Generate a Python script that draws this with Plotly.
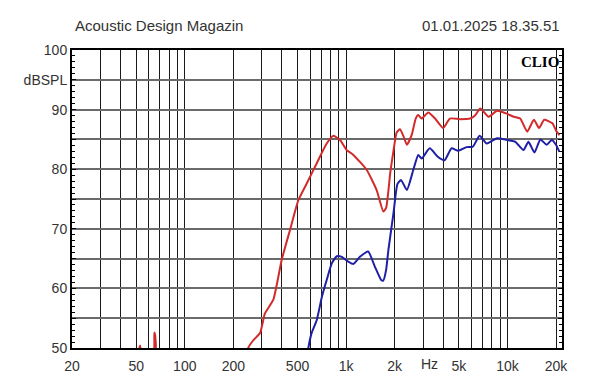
import math
import plotly.graph_objects as go

# ---- data ----
red_freq = [50, 52.8, 55, 63.8, 64.8, 65.5, 66.2, 66.8, 240, 247, 266, 293, 314, 354, 399, 449, 506,
            570, 658, 758, 834, 917, 1009, 1109, 1340, 1546, 1702, 1770, 1880, 1964, 2060, 2158,
            2270, 2380, 2554, 2700, 2800, 2940, 3230, 3560, 4000, 4400, 5080, 5870, 6300, 6780,
            7640, 8620, 9720, 10950, 12000, 13260, 14600, 15700, 16900, 19000, 20000, 21000]
red_db = [48, 50.4, 48, 48, 52.6, 52.2, 50.5, 48, 48, 50, 51.3, 52.5, 55.8, 58.1, 64.8, 69.8, 74.8,
          77.6, 81.0, 84.3, 85.6, 84.9, 83.2, 82.4, 79.9, 76.5, 72.9, 73.5, 79.5, 83.0, 86.2, 86.7,
          85.5, 84.1, 85.8, 88.5, 89.1, 88.5, 89.5, 88.5, 86.9, 88.5, 88.4, 88.5, 89.0, 90.2,
          88.8, 89.8, 89.4, 88.8, 88.5, 86.3, 88.3, 86.9, 88.3, 87.7, 86.5, 85.7]

blue_freq = [560, 583, 611, 658, 708, 758, 815, 876, 940, 1030, 1109, 1218, 1370, 1505, 1650, 1700,
             1770, 1830, 1964, 2080, 2190, 2380, 2610, 2800, 2940, 3300, 3700, 4080, 4500, 4950,
             5570, 6110, 6720, 7450, 8620, 9950, 11200, 12560, 13500, 14700, 16000, 17500, 18800,
             20000, 21000]
blue_db = [47, 50, 52.5, 54.7, 58.6, 61.4, 64.2, 65.4, 65.3, 64.5, 64.1, 65.3, 66.2, 63.7, 61.4, 61.3,
           63.1, 66.5, 72.5, 77.5, 78.2, 76.5, 79.9, 82.4, 81.8, 83.5, 82.1, 81.5, 83.5, 83.1,
           83.7, 83.8, 85.6, 84.3, 85.2, 84.9, 84.6, 83.2, 84.6, 82.8, 85.0, 84.1, 84.9,
           84.1, 82.9]

x_grid = [20, 30, 40, 50, 60, 70, 80, 90, 100, 200, 300, 400, 500, 600, 700, 800, 900,
          1000, 2000, 3000, 4000, 5000, 6000, 7000, 8000, 9000, 10000, 20000]
x_labels = {20: "20", 50: "50", 100: "100", 200: "200", 500: "500", 1000: "1k",
            2000: "2k", 5000: "5k", 10000: "10k", 20000: "20k"}
y_grid = [50, 55, 60, 65, 70, 75, 80, 85, 90, 95, 100]
y_labels = {50: "50", 60: "60", 70: "70", 80: "80", 90: "90", 95: "dBSPL", 100: "100"}

title_left = "Acoustic Design Magazin"
title_right = "01.01.2025 18.35.51"

FONT = "Liberation Sans, Arial, sans-serif"
TXT = "#333333"

# the page body has an 8px margin, so the figure is 8px smaller and margins are offset
OFF = 8
W, H = 600 - OFF, 384 - OFF
ML, MR, MT, MB = 72 - OFF, 38, 50 - OFF, 36
plot_w = W - ML - MR
plot_h = H - MT - MB

fig = go.Figure()
fig.add_trace(go.Scatter(x=red_freq, y=red_db, mode="lines",
                         line=dict(color="#d22b2b", width=2, shape="spline", smoothing=0.5),
                         showlegend=False))
fig.add_trace(go.Scatter(x=blue_freq, y=blue_db, mode="lines",
                         line=dict(color="#1f1fa6", width=2, shape="spline", smoothing=0.5),
                         showlegend=False))

x0 = math.log10(20)
x1 = x0 + 490 / (484 / 3)

fig.update_layout(
    width=W, height=H,
    margin=dict(l=ML, r=MR, t=MT, b=MB, autoexpand=False),
    paper_bgcolor="white", plot_bgcolor="white",
    font=dict(family=FONT, size=14, color=TXT),
    xaxis=dict(type="log", range=[x0, x1], automargin=False,
               tickvals=x_grid, ticktext=[x_labels.get(v, "") for v in x_grid],
               showgrid=True, gridcolor="#1a1a1a", gridwidth=1,
               ticks="", showline=True, linecolor="black", linewidth=2, mirror=True,
               ticklabelstandoff=4,
               zeroline=False, tickfont=dict(size=14, color=TXT)),
    yaxis=dict(range=[50, 100], tickvals=y_grid, automargin=False,
               ticktext=[y_labels.get(v, "") for v in y_grid],
               showgrid=True, gridcolor="#6a6a6a", gridwidth=1.5,
               ticks="inside", ticklen=4, tickcolor="black",
               minor=dict(dtick=1, ticks="inside", ticklen=3, tickcolor="black", showgrid=False),
               showline=True, linecolor="black", linewidth=2, mirror="allticks",
               zeroline=False, tickfont=dict(size=14, color=TXT)),
    annotations=[
        dict(text=title_left, x=(73 - 72) / plot_w, y=(348 - 25) / plot_h,
             xref="paper", yref="paper",
             showarrow=False, xanchor="left", yanchor="middle",
             font=dict(family=FONT, size=15, color=TXT)),
        dict(text=title_right, x=1.0, y=(348 - 25) / plot_h, xref="paper", yref="paper",
             showarrow=False, xanchor="right", yanchor="middle",
             font=dict(family=FONT, size=15, color=TXT)),
        dict(text="Hz", x=math.log10(3300), y=50, xref="x", yref="y",
             showarrow=False, xanchor="center", yanchor="top", yshift=-6,
             font=dict(family=FONT, size=14, color=TXT)),
        dict(text="<b>CLIO</b>", x=1, y=1, xref="paper", yref="paper",
             showarrow=False, xanchor="right", yanchor="top", xshift=-1, yshift=-2,
             font=dict(family="Liberation Serif, Times New Roman, serif", size=15, color="black")),
    ],
)

fig.write_html("out.html")
